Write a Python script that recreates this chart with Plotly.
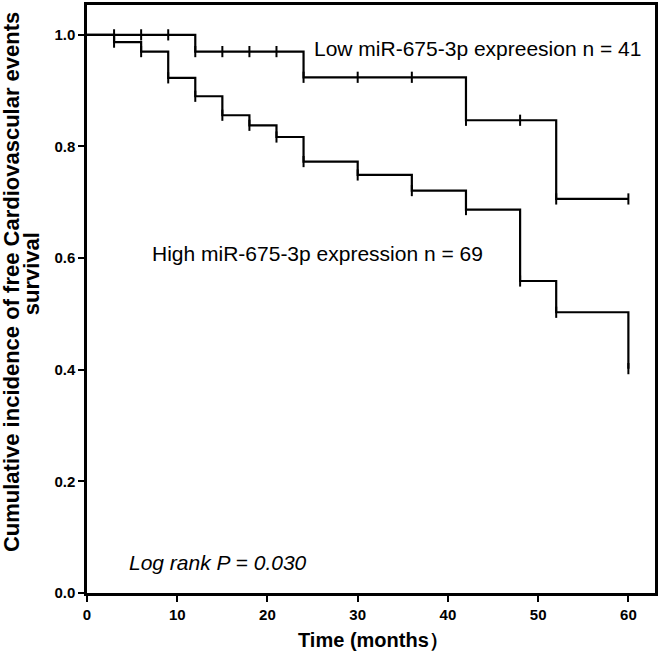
import plotly.graph_objects as go

# Kaplan-Meier step data (months, cumulative survival)
low_times = [0, 12, 24, 42, 52, 60]
low_surv = [1.0, 0.970, 0.924, 0.847, 0.706, 0.706]
low_censor_t = [3, 6, 9, 12, 15, 18, 21, 24, 30, 36, 42, 48, 52, 60]

high_times = [0, 3, 6, 9, 12, 15, 18, 21, 24, 30, 36, 42, 48, 52, 60]
high_surv = [1.0, 0.987, 0.970, 0.923, 0.890, 0.856, 0.838, 0.817, 0.773,
             0.749, 0.721, 0.687, 0.559, 0.503, 0.402]
high_censor_t = [3, 6, 9, 12, 15, 18, 21, 24, 30, 36, 42, 48, 52, 60]

x_ticks = [0, 10, 20, 30, 40, 50, 60]
y_ticks = [0.0, 0.2, 0.4, 0.6, 0.8, 1.0]


def surv_at(times, surv, t):
    v = surv[0]
    for ti, si in zip(times, surv):
        if ti <= t:
            v = si
    return v


fig = go.Figure()
for times, surv, cens in [(low_times, low_surv, low_censor_t),
                          (high_times, high_surv, high_censor_t)]:
    fig.add_trace(go.Scatter(x=times, y=surv, mode="lines",
                             line=dict(shape="hv", color="black", width=2.2),
                             showlegend=False, hoverinfo="skip"))
    fig.add_trace(go.Scatter(x=cens, y=[surv_at(times, surv, t) for t in cens],
                             mode="markers",
                             marker=dict(symbol="line-ns", size=8,
                                         line=dict(color="black", width=2)),
                             showlegend=False, hoverinfo="skip"))

font = "Liberation Sans, Arial, sans-serif"
fig.add_annotation(x=24.96, y=0.976, text="Low miR-675-3p expreesion n = 41",
                   showarrow=False, xanchor="left", yanchor="middle",
                   font=dict(family=font, size=21, color="black"))
fig.add_annotation(x=6.99, y=0.608, text="High miR-675-3p expression n = 69",
                   showarrow=False, xanchor="left", yanchor="middle",
                   font=dict(family=font, size=21, color="black"))
fig.add_annotation(x=4.42, y=0.055, text="<i>Log rank P = 0.030</i>",
                   showarrow=False, xanchor="left", yanchor="middle",
                   font=dict(family=font, size=21, color="black"))

fig.add_annotation(xref="paper", yref="paper", x=0.505, y=-0.0795,
                   text="<b>Time (months）</b>", showarrow=False,
                   xanchor="center", yanchor="middle",
                   font=dict(family=font, size=20, color="black"))
fig.add_annotation(xref="paper", yref="paper", x=(11 - 86.7) / 570, y=0.528,
                   text="<b>Cumulative incidence of free Cardiovascular events</b>",
                   showarrow=False, textangle=-90,
                   xanchor="center", yanchor="middle",
                   font=dict(family=font, size=22, color="black"))
fig.add_annotation(xref="paper", yref="paper", x=(31 - 86.7) / 570, y=0.543,
                   text="<b>survival</b>",
                   showarrow=False, textangle=-90,
                   xanchor="center", yanchor="middle",
                   font=dict(family=font, size=22, color="black"))

axis_common = dict(showgrid=False, zeroline=False, showline=True, mirror=True,
                   linecolor="black", linewidth=2.5, ticks="outside",
                   ticklen=6, tickwidth=2, tickcolor="black",
                   tickfont=dict(family=font, size=15, color="black"))
fig.update_xaxes(range=[0, 62.95], tickvals=x_ticks,
                 ticktext=["<b>%d</b>" % v for v in x_ticks], **axis_common)
fig.update_yaxes(range=[0, 1.0535], tickvals=y_ticks,
                 ticktext=["<b>%.1f</b>" % v for v in y_ticks], **axis_common)

fig.update_layout(width=660, height=659, plot_bgcolor="white",
                  paper_bgcolor="white",
                  margin=dict(l=87, r=3, t=2, b=66))
fig.write_html("out.html", config={"displayModeBar": False},
               post_script="document.body.style.margin='0';")
